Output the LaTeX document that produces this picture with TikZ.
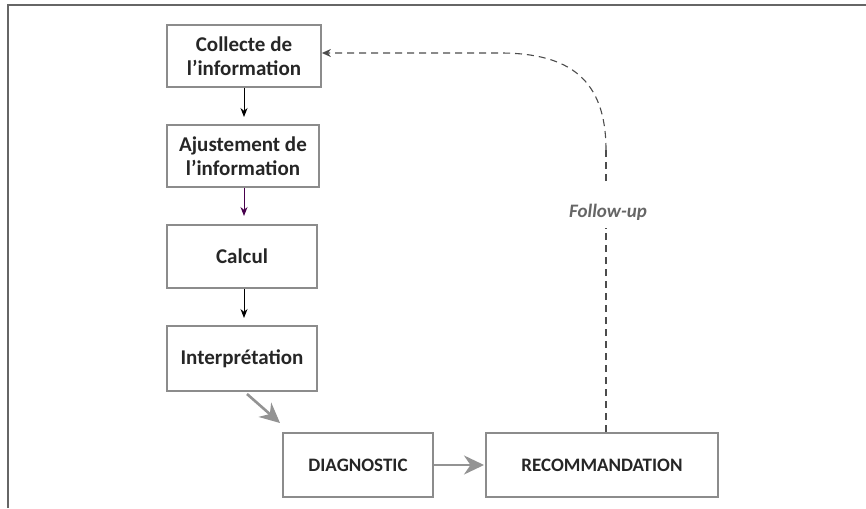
\documentclass[tikz,border=0pt]{standalone}
\usepackage{fontspec}
\setmainfont{Carlito}
\usetikzlibrary{arrows.meta}
\begin{document}
\begin{tikzpicture}[x=1pt,y=-1pt,
  box/.style={draw=gray!90,line width=1.8pt,fill=white,inner sep=0pt,align=center,font=\bfseries\fontsize{21}{24}\selectfont,text=black!85},
  thin/.style={draw=black,line width=1pt,-{Stealth[length=9pt,width=7pt]}},
  thick/.style={draw=gray!85,line width=2.6pt,-{Stealth[length=20pt,width=19pt]}},
  fup/.style={draw=black!70,line width=1.1pt,dash pattern=on 7pt off 5pt}]
\useasboundingbox (0,0) rectangle (866,508);
\fill[white] (0,0) rectangle (866,508);
\draw[black!60,line width=2pt] (8,508) -- (8,5) -- (866,5);
\node[box,minimum width=154pt,minimum height=62pt] (col) at (244,56) {Collecte de\\l’information};
\node[box,minimum width=152pt,minimum height=62pt] (aju) at (243,156) {Ajustement de\\l’information};
\node[box,minimum width=150pt,minimum height=63pt] (cal) at (242,256.5) {Calcul};
\node[box,minimum width=150pt,minimum height=65pt] (int) at (242,358.5) {Interprétation};
\node[box,minimum width=150pt,minimum height=64pt,font=\bfseries\fontsize{19}{22}\selectfont] (dia) at (358,465) {DIAGNOSTIC};
\node[box,minimum width=232pt,minimum height=64pt,font=\bfseries\fontsize{19}{22}\selectfont] (rec) at (602,465) {RECOMMANDATION};
\coordinate (ia) at (247,394);
\coordinate (ib) at (280,423);
\draw[thin] (col.south -| 244,0) -- (244,117);
\draw[thin,draw=black!60!red!70!blue] (aju.south -| 244,0) -- (244,216);
\draw[thin] (cal.south -| 244,0) -- (244,318);
\draw[thick] (ia) -- (ib);
\draw[thick] (dia.east) -- (484,465);
\node[font=\bfseries\itshape\fontsize{19}{22}\selectfont,text=black!60,inner sep=2pt] (fu) at (608,212) {Follow-up};
\coordinate (fulow) at (606,228);
\coordinate (fuup) at (606,181);
\coordinate (turn) at (606,150);
\draw[fup] (rec.north -| 606,0) -- (fulow);
\draw[fup] (fuup) -- (turn);
\draw[fup,-{Stealth[length=9pt,width=8pt]}] (turn) .. controls (606,80) and (570,53) .. (500,53) -- (col.east |- 0,53);
\end{tikzpicture}
\end{document}
